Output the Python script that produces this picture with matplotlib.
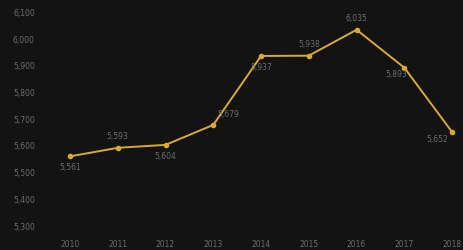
import matplotlib
matplotlib.use("Agg")
import matplotlib.pyplot as plt

years = ['2010', '2011', '2012', '2013', '2014', '2015', '2016', '2017', '2018']
values = [5561, 5593, 5604, 5679, 5937, 5938, 6035, 5893, 5652]
label_pos = ['below', 'above', 'below', 'upright', 'below', 'above', 'above', 'belowleft', 'left']
yticks = [5300, 5400, 5500, 5600, 5700, 5800, 5900, 6000, 6100]

bg = '#131313'
gold = '#d9aa2e'
txt = '#6c6c6c'

fig = plt.figure(figsize=(4.64, 2.5), dpi=100)
fig.patch.set_facecolor(bg)
ax = fig.add_axes([0.12, 0.053, 0.875, 0.94])
ax.set_facecolor(bg)

x = list(range(len(years)))
ax.plot(x, values, color=gold, linewidth=1.4, marker='o', markersize=3)

# offsets (points) and alignment for each value label
offsets = {
    'above': ((0, 5), 'center', 'bottom'),
    'below': ((0, -5), 'center', 'top'),
    'upright': ((3, 4), 'left', 'bottom'),
    'belowleft': ((-6, -2), 'center', 'top'),
    'left': ((-3, -2), 'right', 'top'),
}
for i, v in enumerate(values):
    off, ha, va = offsets[label_pos[i]]
    ax.annotate(f'{v:,}', (i, v), xytext=off, textcoords='offset points',
                ha=ha, va=va, fontsize=5.5, color=txt)

ax.set_xlim(-0.3, 8.2)
ax.set_ylim(5260, 6140)
ax.set_xticks(x)
ax.set_xticklabels(years)
ax.set_yticks(yticks)
ax.set_yticklabels([f'{t:,}' for t in yticks])
ax.tick_params(axis='both', length=0, colors=txt, labelsize=5.5)
ax.tick_params(axis='y', pad=15)
ax.tick_params(axis='x', pad=2)
for sp in ax.spines.values():
    sp.set_visible(False)

fig.savefig('out.png', dpi=100, facecolor=bg)
